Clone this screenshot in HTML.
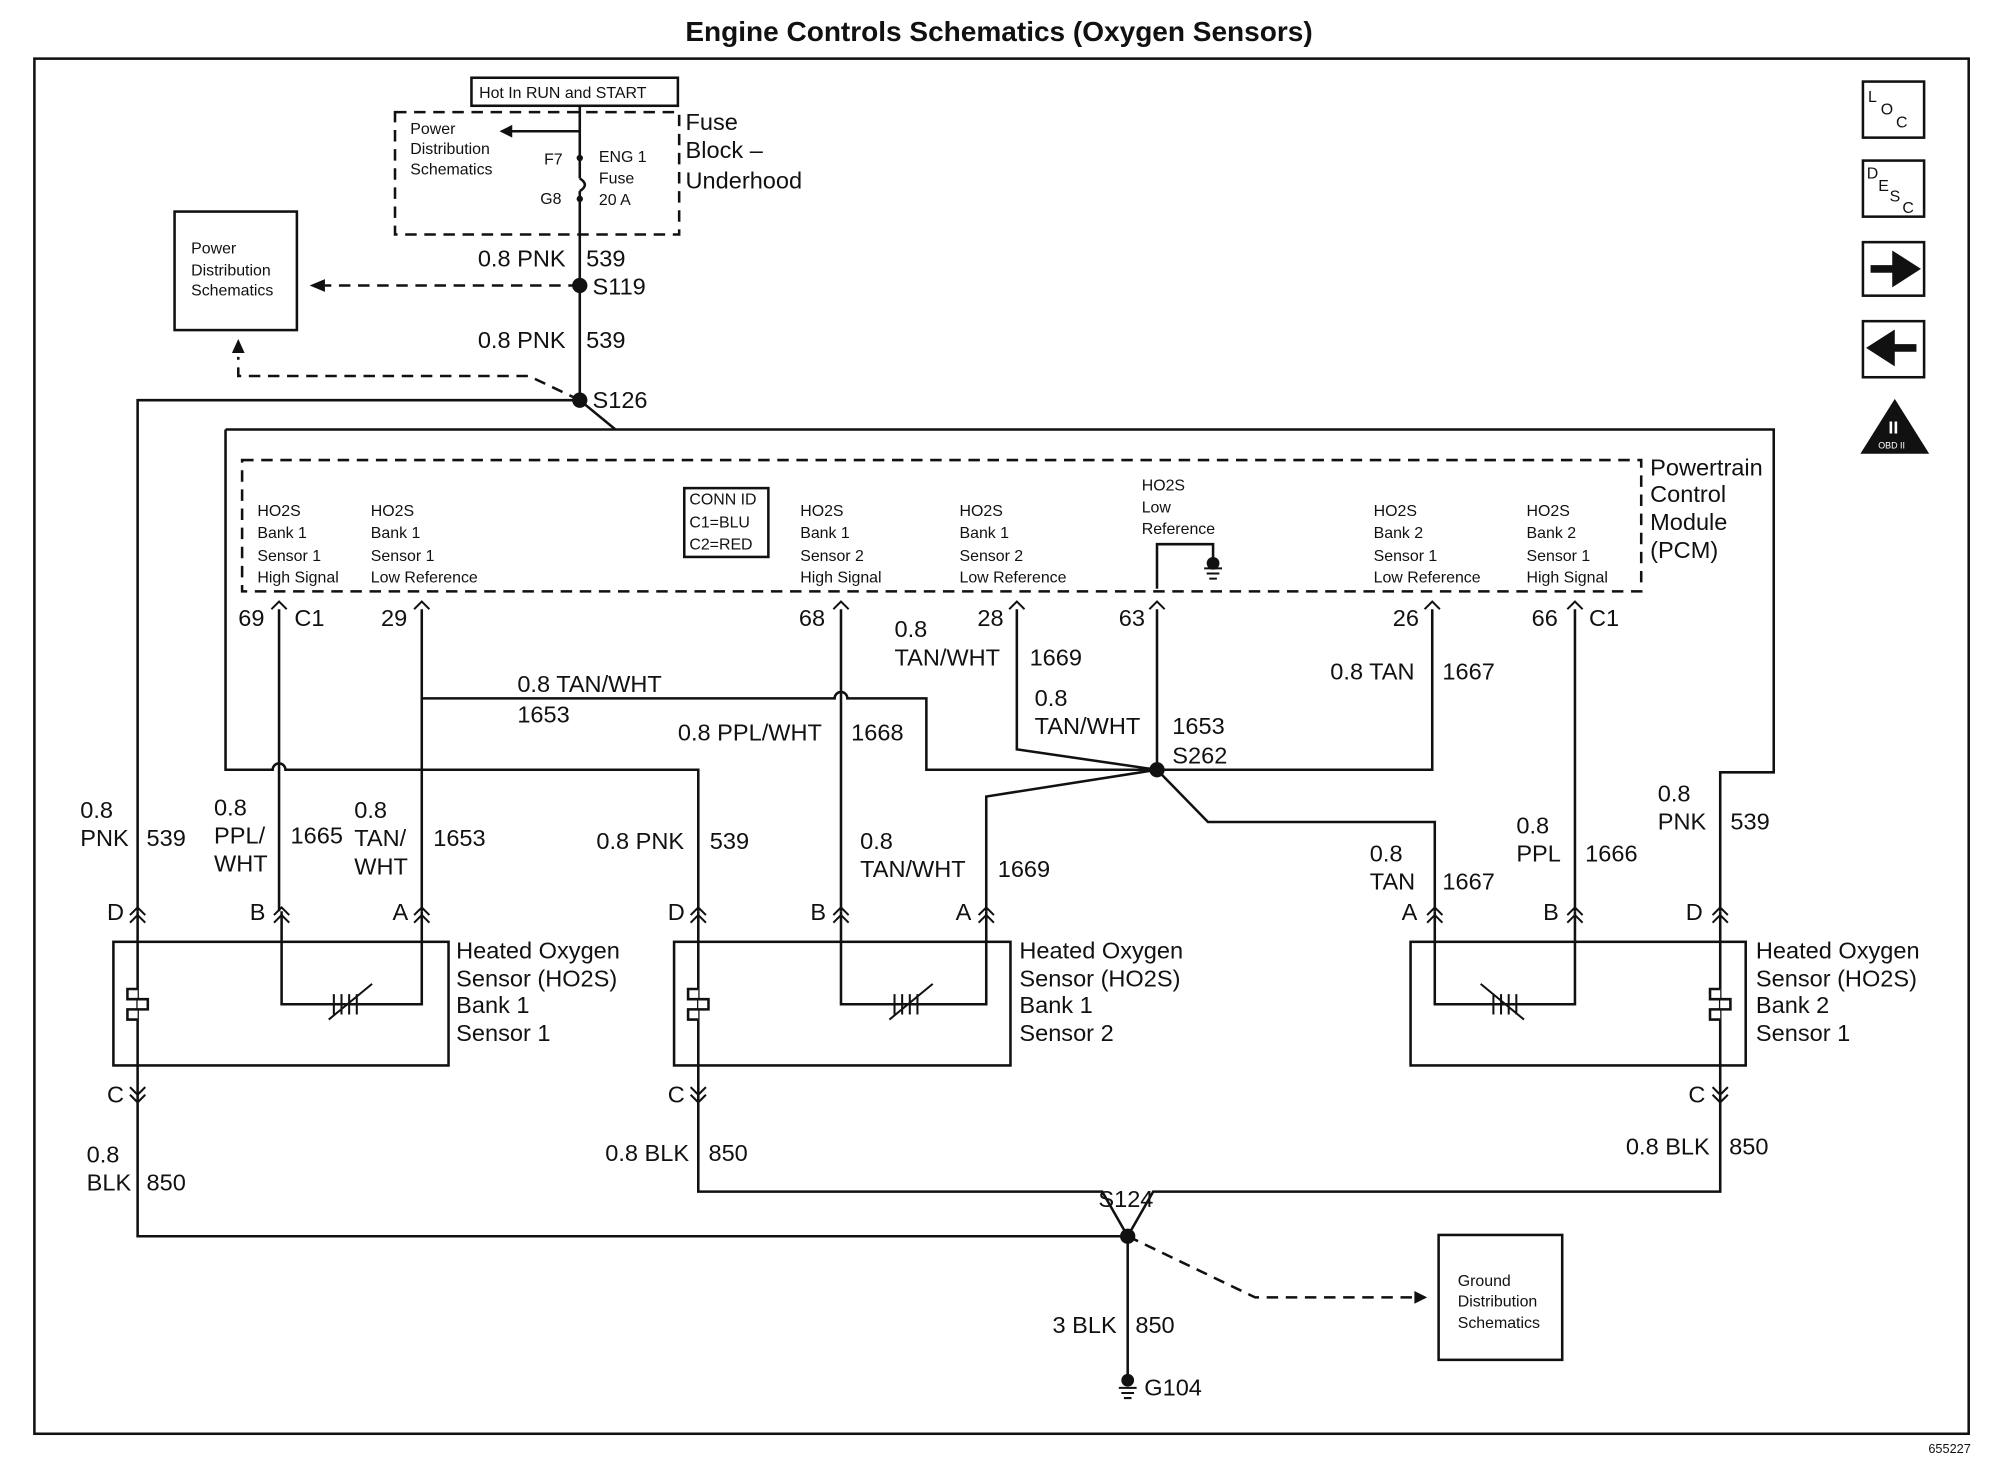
<!DOCTYPE html>
<html><head><meta charset="utf-8"><style>
html,body{margin:0;padding:0;background:#fff}
svg{display:block}
text{font-family:"Liberation Sans",Arial,sans-serif;fill:#111}
.l{font-size:18.5px}.s{font-size:12.5px}.m{font-size:19px}
</style></head><body>
<svg width="1998" height="1472" viewBox="0 0 1568 1155" preserveAspectRatio="none" xmlns="http://www.w3.org/2000/svg">
<g stroke="#111" stroke-width="2" fill="none">
<rect x="27" y="46" width="1518" height="1079"/>
<rect x="1462" y="64" width="48" height="44"/>
<rect x="1462" y="126" width="48" height="44"/>
<rect x="1462" y="190" width="48" height="42"/>
<rect x="1462" y="252" width="48" height="44"/>
<rect x="310" y="88" width="223" height="96" stroke-dasharray="9,6"/>
<rect x="370" y="61" width="162" height="22"/>
<path d="M455 83V140 M455 150V314 M455 103H400"/>
<path d="M455 140q8 5 0 10"/>
<rect x="137" y="166" width="96" height="93"/>
<path d="M455 224H255 M455 314L415 295H187V280" stroke-dasharray="9,6"/>
<path d="M455 314H108V715 M455 314L483 337 M177 337H1392V606H1350V715 M177 337V604H214a5 5 0 0 1 10 0H548V715"/>
<rect x="190" y="361" width="1098" height="103" stroke-dasharray="9,6"/>
<rect x="537" y="383" width="66" height="54"/>
<path d="M908 462V427H952V440"/>
<path d="M219 478V715 M331 478V715 M331 548H655a5 5 0 0 1 10 0H727V604H908 M660 478V715 M798 478V588L908 604 M908 478V604 M1124 478V604H908 M908 604L774 625V715 M908 604L948 645H1126V715 M1236 478V715"/>
<rect x="89" y="739" width="263" height="97"/>
<rect x="529" y="739" width="264" height="97"/>
<rect x="1107" y="739" width="263" height="97"/>
<path d="M108 715V970H885 M548 715V935H865L885 970 M1350 715V935H905L885 970 M885 970V1085"/>
<path d="M221 715V788H331V715 M660 715V788H774V715 M1126 715V788H1236V715"/>
<path d="M885 970L985 1018H1118" stroke-dasharray="9,6"/>
<rect x="1129" y="969" width="97" height="98"/>
</g>
<g stroke="#111" stroke-width="2" fill="#fff">
<path d="M108 776h-8v8h16v8h-16v8h8"/><path d="M548 776h-8v8h16v8h-16v8h8"/><path d="M1350 776h-8v8h16v8h-16v8h8"/>
</g>
<g stroke="#111" stroke-width="1.6">
<path d="M262 780v16M268 780v16M274 780v16M280 780v16M258 800L292 772"/>
<path d="M702 780v16M708 780v16M714 780v16M720 780v16M698 800L732 772"/>
<path d="M1172 780v16M1178 780v16M1184 780v16M1190 780v16M1162 772L1196 800"/>
<path fill="none" d="M213 478l6-6 6 6M325 478l6-6 6 6M654 478l6-6 6 6M792 478l6-6 6 6M902 478l6-6 6 6M1118 478l6-6 6 6M1230 478l6-6 6 6"/>
<path fill="none" d="M102 718l6-6 6 6M102 724l6-6 6 6M215 718l6-6 6 6M215 724l6-6 6 6M325 718l6-6 6 6M325 724l6-6 6 6M542 718l6-6 6 6M542 724l6-6 6 6M654 718l6-6 6 6M654 724l6-6 6 6M768 718l6-6 6 6M768 724l6-6 6 6M1120 718l6-6 6 6M1120 724l6-6 6 6M1230 718l6-6 6 6M1230 724l6-6 6 6M1344 718l6-6 6 6M1344 724l6-6 6 6"/>
<path fill="none" d="M102 853l6 6 6-6M102 859l6 6 6-6M542 853l6 6 6-6M542 859l6 6 6-6M1344 853l6 6 6-6M1344 859l6 6 6-6"/>
<path d="M945 446h14M947 450h10M949 454h6M878 1089h14M880 1093h10M882 1097h6"/>
</g>
<g fill="#111">
<circle cx="455" cy="224" r="6"/><circle cx="455" cy="314" r="6"/><circle cx="908" cy="604" r="6"/><circle cx="885" cy="970" r="6"/>
<circle cx="952" cy="442" r="5"/><circle cx="885" cy="1083" r="5"/>
<circle cx="455" cy="124" r="2.5"/><circle cx="455" cy="156" r="2.5"/>
<path d="M392 103l10-5v10z M243 224l12-5v10z M187 266l-5 11h10z M1120 1018l-10-5v10z"/>
<path d="M1468 211h20v-9l14 9-14 9v-9z" stroke="#111" stroke-width="6"/>
<path d="M1504 273h-20v-9l-14 9 14 9v-9z" stroke="#111" stroke-width="6"/>
<path d="M1487 313L1514 356H1460z"/>
</g>
<text x="1466" y="80" class="s">L</text><text x="1476" y="90" class="s">O</text><text x="1488" y="100" class="s">C</text>
<text x="1465" y="140" class="s">D</text><text x="1474" y="150" class="s">E</text><text x="1483" y="158" class="s">S</text><text x="1493" y="167" class="s">C</text>
<text x="1482" y="340" style="font-size:14px;fill:#fff;font-weight:bold">II</text>
<text x="1474" y="352" style="font-size:7px;fill:#fff">OBD II</text>

<text x="784" y="32" text-anchor="middle" style="font-size:22px;font-weight:bold">Engine Controls Schematics (Oxygen Sensors)</text>
<text x="1530" y="1140" style="font-size:10px" text-anchor="middle">655227</text>
<g class="s">
<text x="376" y="77">Hot In RUN and START</text>
<text x="322" y="105">Power</text><text x="322" y="121">Distribution</text><text x="322" y="137">Schematics</text>
<text x="427" y="129">F7</text><text x="424" y="160">G8</text>
<text x="470" y="127">ENG 1</text><text x="470" y="144">Fuse</text><text x="470" y="161">20 A</text>
<text x="150" y="199">Power</text><text x="150" y="216">Distribution</text><text x="150" y="232">Schematics</text>
<text x="1144" y="1009">Ground</text><text x="1144" y="1025">Distribution</text><text x="1144" y="1042">Schematics</text>
<text x="202" y="405">HO2S</text><text x="202" y="422">Bank 1</text><text x="202" y="440">Sensor 1</text><text x="202" y="457">High Signal</text>
<text x="291" y="405">HO2S</text><text x="291" y="422">Bank 1</text><text x="291" y="440">Sensor 1</text><text x="291" y="457">Low Reference</text>
<text x="541" y="396">CONN ID</text><text x="541" y="414">C1=BLU</text><text x="541" y="431">C2=RED</text>
<text x="628" y="405">HO2S</text><text x="628" y="422">Bank 1</text><text x="628" y="440">Sensor 2</text><text x="628" y="457">High Signal</text>
<text x="753" y="405">HO2S</text><text x="753" y="422">Bank 1</text><text x="753" y="440">Sensor 2</text><text x="753" y="457">Low Reference</text>
<text x="896" y="385">HO2S</text><text x="896" y="402">Low</text><text x="896" y="419">Reference</text>
<text x="1078" y="405">HO2S</text><text x="1078" y="422">Bank 2</text><text x="1078" y="440">Sensor 1</text><text x="1078" y="457">Low Reference</text>
<text x="1198" y="405">HO2S</text><text x="1198" y="422">Bank 2</text><text x="1198" y="440">Sensor 1</text><text x="1198" y="457">High Signal</text>
</g>
<g class="l">
<text x="538" y="102">Fuse</text><text x="538" y="124">Block –</text><text x="538" y="148">Underhood</text>
<text x="375" y="209">0.8 PNK</text><text x="460" y="209">539</text><text x="465" y="231">S119</text>
<text x="375" y="273">0.8 PNK</text><text x="460" y="273">539</text><text x="465" y="320">S126</text>
<text x="1295" y="373">Powertrain</text><text x="1295" y="394">Control</text><text x="1295" y="416">Module</text><text x="1295" y="438">(PCM)</text>
<text x="187" y="491">69</text><text x="231" y="491">C1</text><text x="299" y="491">29</text><text x="627" y="491">68</text><text x="767" y="491">28</text><text x="878" y="491">63</text><text x="1093" y="491">26</text><text x="1202" y="491">66</text><text x="1247" y="491">C1</text>
<text x="702" y="500">0.8</text><text x="702" y="522">TAN/WHT</text><text x="808" y="522">1669</text>
<text x="406" y="543">0.8 TAN/WHT</text><text x="406" y="567">1653</text>
<text x="532" y="581">0.8 PPL/WHT</text><text x="668" y="581">1668</text>
<text x="812" y="554">0.8</text><text x="812" y="576">TAN/WHT</text><text x="920" y="576">1653</text><text x="920" y="599">S262</text>
<text x="1044" y="533">0.8 TAN</text><text x="1132" y="533">1667</text>
<text x="63" y="642">0.8</text><text x="63" y="664">PNK</text><text x="115" y="664">539</text>
<text x="168" y="640">0.8</text><text x="168" y="662">PPL/</text><text x="168" y="684">WHT</text><text x="228" y="662">1665</text>
<text x="278" y="642">0.8</text><text x="278" y="664">TAN/</text><text x="278" y="686">WHT</text><text x="340" y="664">1653</text>
<text x="468" y="666">0.8 PNK</text><text x="557" y="666">539</text>
<text x="675" y="666">0.8</text><text x="675" y="688">TAN/WHT</text><text x="783" y="688">1669</text>
<text x="1075" y="676">0.8</text><text x="1075" y="698">TAN</text><text x="1132" y="698">1667</text>
<text x="1190" y="654">0.8</text><text x="1190" y="676">PPL</text><text x="1244" y="676">1666</text>
<text x="1301" y="629">0.8</text><text x="1301" y="651">PNK</text><text x="1358" y="651">539</text>
<text x="84" y="722">D</text><text x="196" y="722">B</text><text x="308" y="722">A</text>
<text x="524" y="722">D</text><text x="636" y="722">B</text><text x="750" y="722">A</text>
<text x="1100" y="722">A</text><text x="1211" y="722">B</text><text x="1323" y="722">D</text>
<text x="358" y="752">Heated Oxygen</text><text x="358" y="774">Sensor (HO2S)</text><text x="358" y="795">Bank 1</text><text x="358" y="817">Sensor 1</text>
<text x="800" y="752">Heated Oxygen</text><text x="800" y="774">Sensor (HO2S)</text><text x="800" y="795">Bank 1</text><text x="800" y="817">Sensor 2</text>
<text x="1378" y="752">Heated Oxygen</text><text x="1378" y="774">Sensor (HO2S)</text><text x="1378" y="795">Bank 2</text><text x="1378" y="817">Sensor 1</text>
<text x="84" y="865">C</text><text x="524" y="865">C</text><text x="1325" y="865">C</text>
<text x="68" y="912">0.8</text><text x="68" y="934">BLK</text><text x="115" y="934">850</text>
<text x="475" y="911">0.8 BLK</text><text x="556" y="911">850</text>
<text x="1276" y="906">0.8 BLK</text><text x="1357" y="906">850</text>
<text x="862" y="947">S124</text>
<text x="826" y="1046">3 BLK</text><text x="891" y="1046">850</text>
<text x="898" y="1095">G104</text>
</g>
</svg>
</body></html>
